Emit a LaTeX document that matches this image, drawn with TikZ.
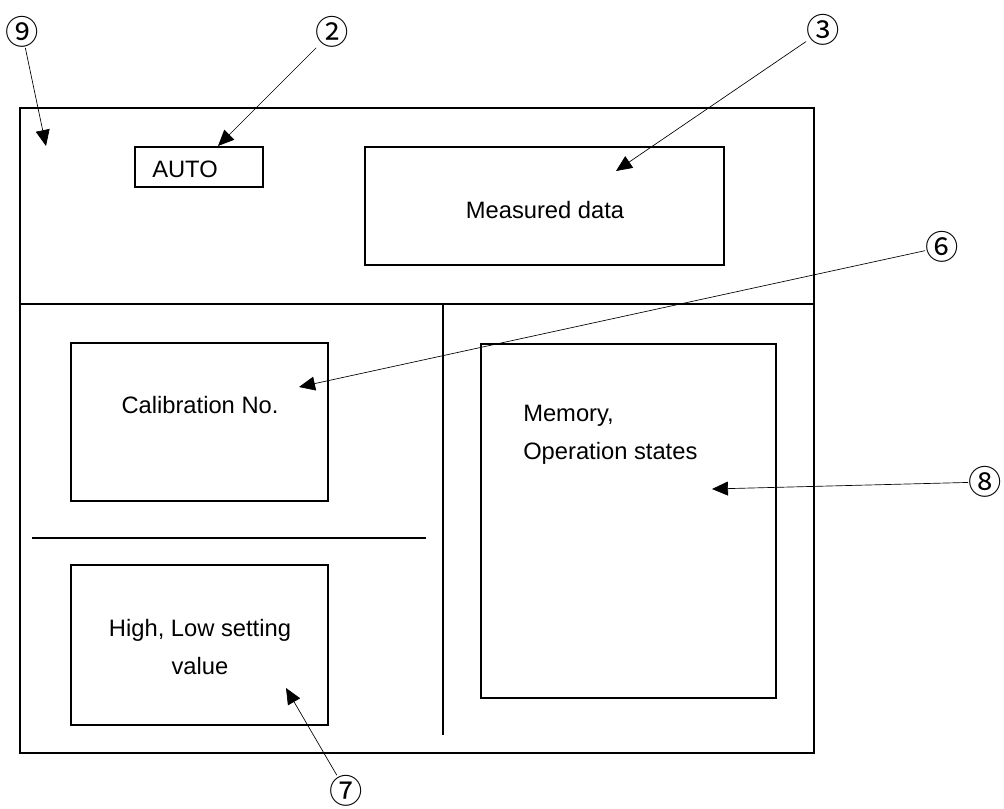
\documentclass[tikz,border=0pt]{standalone}
\usepackage{fontspec}
\setmainfont{Liberation Sans}
\newfontfamily\circfont{Noto Sans CJK JP}
\usepackage{tikz}
\usetikzlibrary{arrows.meta, graphs}

\begin{document}
\begin{tikzpicture}[x=0.75pt, y=-0.75pt,
    >={Triangle[length=12pt, width=10.5pt]},
    panel/.style={draw, line width=1pt, inner sep=0pt},
    txt/.style={inner sep=0pt, font=\fontsize{17.8}{28.5}\selectfont},
    num/.style={inner sep=0pt, font=\circfont\fontsize{25}{25}\selectfont},
    lead/.style={line width=0.5pt}]
    \useasboundingbox (0,0) rectangle (1004,808);

    \draw[line width=1.3pt] (20,108) rectangle (814,753);
    \draw[line width=1.3pt] (20,304) -- (814,304);
    \draw[line width=1.3pt] (443,304) -- (443,735);
    \draw[line width=1.3pt] (32,538) -- (426,538);

    \node[panel, minimum width=96pt, minimum height=30pt] (auto) at (199,167) {};
    \node[panel, minimum width=269.25pt, minimum height=88.5pt] (measured) at (544.5,206) {};
    \node[panel, minimum width=192.75pt, minimum height=118.5pt] (calib) at (199.5,422) {};
    \node[panel, minimum width=192.75pt, minimum height=120pt] (limits) at (199.5,645) {};
    \node[panel, minimum width=221.25pt, minimum height=265.5pt] (memory) at (628.5,521) {};

    \node[txt, anchor=west] (auto-txt) at (152,169) {AUTO};
    \node[txt] (measured-txt) at (545,210) {Measured data};
    \node[txt] (calib-txt) at (200,405) {Calibration No.};
    \node[txt, align=center] (limits-txt) at (200,647) {High, Low setting\\value};
    \node[txt, align=left, anchor=west] (memory-txt) at (523,435) {Memory,\\Operation states};

    \node[num] (n9) at (22,32) {⑨};
    \node[num] (n2) at (332,32) {②};
    \node[num] (n3) at (823,30) {③};
    \node[num] (n6) at (942,247) {⑥};
    \node[num] (n8) at (985,482) {⑧};
    \node[num] (n7) at (346,791) {⑦};

    \coordinate (t9) at (46,146);
    \coordinate (t2) at (218,146);
    \coordinate (t3) at (616,171);
    \coordinate (t6) at (299,387);
    \coordinate (t8) at (712,489);
    \coordinate (t7) at (286,688);

    \graph[edges={lead}]{
        (n9) -> (t9);
        (n2) -> (t2);
        (n3) -> (t3);
        (n6) -> (t6);
        (n8) -> (t8);
        (n7) -> (t7);
    };
\end{tikzpicture}
\end{document}
